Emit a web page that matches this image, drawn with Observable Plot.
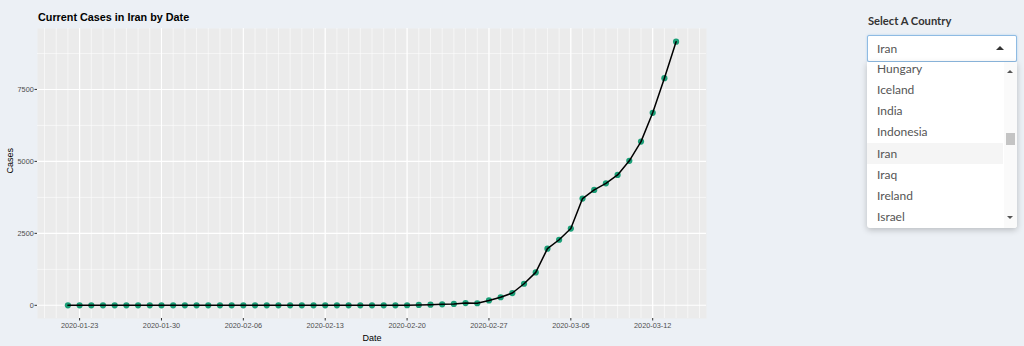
<!DOCTYPE html>
<html><head><meta charset="utf-8">
<script src="https://cdn.jsdelivr.net/npm/d3@7"></script>
<script src="https://cdn.jsdelivr.net/npm/@observablehq/plot@0.6"></script>
<style>
html,body{margin:0;padding:0}
body{background:#ECF0F5;width:1024px;height:346px;overflow:hidden;position:relative;font-family:"Liberation Sans",Arial,sans-serif}
#chart{position:absolute;left:0;top:0}
#title{position:absolute;left:38px;top:11px;font-weight:bold;font-size:10.8px;color:#000;white-space:nowrap}
#lab{position:absolute;left:868px;top:14px;font-family:Lato,"Open Sans",sans-serif;font-weight:bold;font-size:11.2px;color:#333}
#sel{position:absolute;left:867px;top:35px;width:148px;height:25px;background:#fff;border:1px solid #8fbbe3;border-radius:2px;box-shadow:0 0 2px rgba(102,175,233,0.5);font-family:Lato,"Open Sans",sans-serif;font-size:12px;color:#555;line-height:25px;box-sizing:content-box}
#sel span.t{position:absolute;left:9px;top:0}
#caret{position:absolute;left:128px;top:10px;width:0;height:0;border-left:4px solid transparent;border-right:4px solid transparent;border-bottom:4px solid #333}
#list{position:absolute;left:867px;top:62px;width:150px;height:166px;background:#fff;overflow:hidden;box-shadow:0 2px 6px rgba(0,0,0,0.22);border-radius:0 0 3px 3px;font-family:Lato,"Open Sans",sans-serif;font-size:12px;color:#555}
.item{position:absolute;left:0;width:136px;height:21px;line-height:21px;padding-left:10px;box-sizing:border-box}
.item.hl{background:#f5f5f5}
#sb{position:absolute;right:0;top:0;width:13px;height:166px;background:#fafafa}
#thumb{position:absolute;left:2px;top:71px;width:9px;height:12px;background:#c4c4c4}
#up{position:absolute;left:3px;top:8px;width:0;height:0;border-left:3px solid transparent;border-right:3px solid transparent;border-bottom:3px solid #555}
#dn{position:absolute;left:3px;top:154px;width:0;height:0;border-left:3px solid transparent;border-right:3px solid transparent;border-top:3px solid #555}
</style>
</head><body>
<div id="chart"></div>
<div id="title">Current Cases in Iran by Date</div>
<div id="lab">Select A Country</div>
<div id="sel"><span class="t">Iran</span><div id="caret"></div></div>
<div id="list"><div id="sb"><div id="up"></div><div id="thumb"></div><div id="dn"></div></div></div>
<script>
// ---- data ----
const dates = [
  "2020-01-22","2020-01-23","2020-01-24","2020-01-25","2020-01-26","2020-01-27","2020-01-28","2020-01-29","2020-01-30","2020-01-31",
  "2020-02-01","2020-02-02","2020-02-03","2020-02-04","2020-02-05","2020-02-06","2020-02-07","2020-02-08","2020-02-09","2020-02-10",
  "2020-02-11","2020-02-12","2020-02-13","2020-02-14","2020-02-15","2020-02-16","2020-02-17","2020-02-18","2020-02-19","2020-02-20",
  "2020-02-21","2020-02-22","2020-02-23","2020-02-24","2020-02-25","2020-02-26","2020-02-27","2020-02-28","2020-02-29","2020-03-01",
  "2020-03-02","2020-03-03","2020-03-04","2020-03-05","2020-03-06","2020-03-07","2020-03-08","2020-03-09","2020-03-10","2020-03-11",
  "2020-03-12","2020-03-13","2020-03-14"
];
const cases = [
  0,0,0,0,0,0,0,0,0,0,
  0,0,0,0,0,0,0,0,0,0,
  0,0,0,0,0,0,0,0,0,3,
  14,23,35,49,79,71,170,281,427,749,
  1144,1968,2278,2667,3710,4009,4238,4530,5020,5687,
  6687,7891,9159
];
const xTickLabels = ["2020-01-23","2020-01-30","2020-02-06","2020-02-13","2020-02-20","2020-02-27","2020-03-05","2020-03-12"];
const yTicks = [0,2500,5000,7500];
const yMinor = [1250,3750,6250,8750];
const countries = ["Hungary","Iceland","India","Indonesia","Iran","Iraq","Ireland","Israel"];
const selected = "Iran";

// ---- chart ----
const parse = d3.utcParse("%Y-%m-%d");
const data = dates.map((d,i)=>({date: parse(d), cases: cases[i]}));
const xTicks = xTickLabels.map(parse);
const [d0,d1] = d3.extent(data, d=>d.date);
const padX = (d1 - d0) * 0.05;
const xDom = [new Date(+d0 - padX), new Date(+d1 + padX)];
const [v0,v1] = d3.extent(cases);
const padY = (v1 - v0) * 0.05;
const yDom = [v0 - padY, v1 + padY];
const daily = d3.utcDay.range(d3.utcDay.ceil(xDom[0]), xDom[1]);

const chart = Plot.plot({
  width: 720, height: 346,
  marginLeft: 37, marginRight: 14, marginTop: 28, marginBottom: 28,
  style: {background: "transparent", fontFamily: "Liberation Sans, Arial, sans-serif"},
  x: {type: "utc", domain: xDom},
  y: {domain: yDom},
  marks: [
    Plot.frame({fill: "#EBEBEB", stroke: null}),
    Plot.ruleY(yMinor, {stroke: "#fff", strokeWidth: 0.55}),
    Plot.ruleX(daily, {stroke: "#fff", strokeWidth: 0.55}),
    Plot.ruleY(yTicks, {stroke: "#fff", strokeWidth: 1.1}),
    Plot.ruleX(xTicks, {stroke: "#fff", strokeWidth: 1.1}),
    Plot.dot(data, {x: "date", y: "cases", r: 3.1, fill: "#1b9e77", stroke: null}),
    Plot.line(data, {x: "date", y: "cases", stroke: "#000", strokeWidth: 1.5}),
    Plot.axisX({ticks: xTicks, tickFormat: d3.utcFormat("%Y-%m-%d"), tickSize: 2.5, tickPadding: 1.5, fontSize: 7.3, color: "#4D4D4D", stroke: "#333", label: null}),
    Plot.axisY({ticks: yTicks, tickFormat: d3.format("d"), tickSize: 2.5, tickPadding: 1.2, fontSize: 7.3, color: "#4D4D4D", stroke: "#333", label: null}),
    Plot.text(["Date"], {frameAnchor: "bottom", dy: 16, lineAnchor: "top", fontSize: 9, fill: "#000"}),
    Plot.text(["Cases"], {frameAnchor: "left", dx: -27, rotate: -90, fontSize: 9, fill: "#000"})
  ]
});
document.getElementById("chart").appendChild(chart);

// ---- dropdown list ----
const list = document.getElementById("list");
countries.forEach((c,i)=>{
  const el = document.createElement("div");
  el.className = "item" + (c === selected ? " hl" : "");
  el.style.top = (-4.2 + i*21.2) + "px";
  el.textContent = c;
  list.insertBefore(el, document.getElementById("sb"));
});
</script>
</body></html>
